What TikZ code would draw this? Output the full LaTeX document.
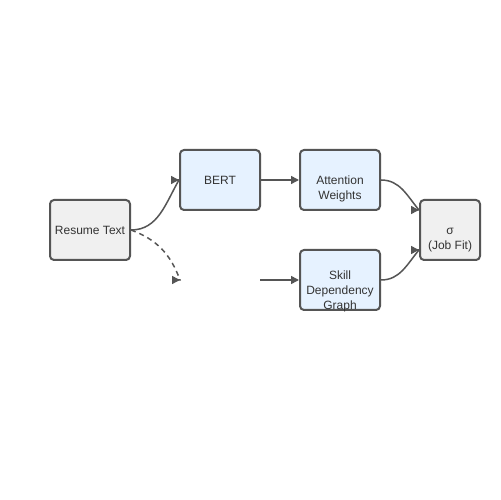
\documentclass[tikz,border=0pt]{standalone}
\usepackage{fontspec}
\setmainfont{Liberation Sans}
\usetikzlibrary{arrows.meta, positioning}
\usepackage{xcolor}
\definecolor{boxgray}{HTML}{F0F0F0}
\definecolor{boxblue}{HTML}{E6F2FF}
\definecolor{linegray}{HTML}{555555}
\definecolor{textgray}{HTML}{333333}

\begin{document}
\begin{tikzpicture}[x=1bp,y=1bp,-{Triangle[length=8bp,width=8bp]},draw=linegray,line width=1.5bp]
    \tikzstyle{block}=[rectangle,rounded corners=4bp,draw=linegray,line width=2bp,minimum width=80bp,minimum height=60bp,inner sep=0pt,text=textgray,font=\fontsize{12bp}{15bp}\selectfont]
    \tikzstyle{input block}=[block, fill=boxgray];
    \tikzstyle{model block}=[block, fill=boxblue];
    \tikzstyle{lbl}=[anchor=base,align=center,inner sep=0pt,text=textgray,font=\fontsize{12bp}{15bp}\selectfont]

	\path[use as bounding box, fill=white] (0,0) rectangle (500,500);

	\node[input block] (R) at (90,270) {Resume Text};
	\node[model block] (B) at (220,320) {BERT};
	\node[model block] (A) at (340,320) {};
	\node[lbl] (A-l) at ([yshift=-20bp]A.center) {Attention\\Weights};
	\node[model block] (S) at (340,220) {};
	\node[lbl] (S-l) at ([yshift=-30bp]S.center) {Skill\\Dependency\\Graph};
	\node[input block, minimum width=60bp] (O) at (450,270) {};
	\node[lbl] (O-l) at ([yshift=-20bp]O.center) {σ\\(Job Fit)};

	\coordinate (D) at (180,220);
	\coordinate (G) at (260,220);

	\draw (R.east) to [out=0,in=240] ([xshift=-0.01bp]B.west) -- (B.west);
	\draw[dash pattern=on 5bp off 4bp] (R.east) to [out=-20,in=110] ([xshift=-0.01bp]D) -- (D);
	\path (B) edge (A);
	\path (G) edge (S);
	\draw (A.east) to [out=0,in=130] ([xshift=-0.01bp,yshift=20bp]O.west) -- ([yshift=20bp]O.west);
	\draw (S.east) to [out=0,in=230] ([xshift=-0.01bp,yshift=-20bp]O.west) -- ([yshift=-20bp]O.west);

\end{tikzpicture}
\end{document}
